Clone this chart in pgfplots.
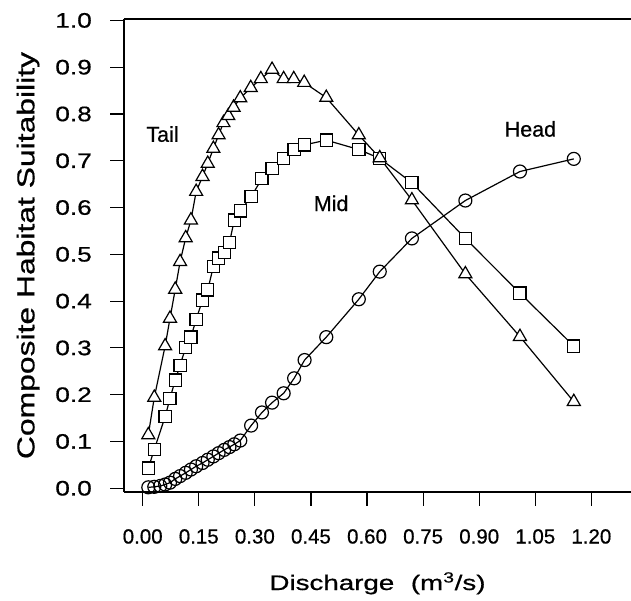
\documentclass[border=0pt]{standalone}
\usepackage{fontspec}
\setmainfont[FakeBold=0.6]{Liberation Sans}
\usepackage{graphicx}
\usepackage{pgfplots}
\pgfplotsset{compat=1.18}
\begin{document}
\begin{tikzpicture}
\useasboundingbox (0,0) rectangle (631bp,601bp);
\begin{axis}[
  at={(124bp,109bp)}, anchor=south west,
  scale only axis, width=507bp, height=473bp,
  xmin=-0.05, xmax=1.306, ymin=-0.008, ymax=1.003,
  axis x line*=box, axis y line*=left,
  xtick pos=bottom, ytick pos=left,
  axis line style={line width=1.5bp, -},
  tick style={line width=1.2bp, black},
  tick align=outside, major tick length=14bp,
  xtick={0,0.15,...,1.21}, ytick={0,0.1,...,1.01},
  /pgf/number format/assume math mode=true,
  xticklabel={\pgfmathprintnumber[fixed,fixed zerofill,precision=2]{\tick}},
  yticklabel={\scalebox{1.25}[1]{\pgfmathprintnumber[fixed,fixed zerofill,precision=1]{\tick}}},
  xticklabel style={font=\fontsize{20.5bp}{24bp}\selectfont, anchor=north, inner sep=0pt, yshift=-23bp},
  yticklabel style={font=\fontsize{21bp}{24bp}\selectfont, anchor=east, inner sep=0pt, xshift=-18bp},
  xlabel={\scalebox{1.32}[1]{Discharge\hspace{0.6em}(m\textsuperscript{3}/s)}},
  ylabel={\scalebox{1.3}[1]{Composite Habitat Suitability}},
  xlabel style={font=\fontsize{21bp}{24bp}\selectfont, at={(axis description cs:0.5,0)}, anchor=base, yshift=-98bp},
  ylabel style={font=\fontsize{24.5bp}{28bp}\selectfont, at={(axis description cs:-0.1893,0.5)}, anchor=center},
  every axis plot/.append style={black, line width=1.2bp, mark options={fill=white, solid, line width=1.2bp}},
  clip=false,
]
% Head
\addplot[mark=o, mark size=6.5bp, mark options={fill=white}] coordinates {
(0.015,0.002)(0.031,0.003)(0.047,0.005)(0.060,0.008)(0.073,0.012)(0.087,0.020)(0.100,0.026)(0.115,0.033)(0.129,0.040)(0.143,0.047)(0.160,0.054)(0.174,0.061)(0.189,0.068)(0.203,0.075)(0.218,0.082)(0.232,0.088)(0.245,0.094)(0.261,0.102)(0.290,0.134)(0.319,0.162)(0.346,0.183)(0.377,0.203)(0.405,0.235)(0.433,0.274)(0.491,0.323)(0.578,0.404)(0.634,0.463)(0.720,0.534)(0.863,0.615)(1.009,0.677)(1.153,0.704)
};
% Mid
\addplot[mark=square*, mark size=6.1bp] coordinates {
(0.015,0.043)(0.031,0.083)(0.060,0.153)(0.073,0.192)(0.087,0.231)(0.100,0.263)(0.115,0.301)(0.129,0.323)(0.143,0.361)(0.160,0.402)(0.174,0.424)(0.189,0.474)(0.203,0.492)(0.218,0.504)(0.232,0.525)(0.245,0.573)(0.261,0.593)(0.290,0.623)(0.319,0.662)(0.346,0.684)(0.377,0.705)(0.405,0.724)(0.433,0.734)(0.491,0.744)(0.578,0.724)(0.634,0.705)(0.720,0.653)(0.863,0.534)(1.009,0.417)(1.153,0.304)
};
% Tail
\addplot[mark=triangle*, mark size=7.5bp] coordinates {
(0.015,0.114)(0.031,0.194)(0.060,0.304)(0.073,0.363)(0.087,0.425)(0.100,0.484)(0.115,0.535)(0.129,0.573)(0.143,0.634)(0.160,0.666)(0.174,0.694)(0.189,0.726)(0.203,0.755)(0.216,0.781)(0.229,0.796)(0.243,0.814)(0.261,0.834)(0.289,0.856)(0.316,0.875)(0.346,0.895)(0.377,0.875)(0.404,0.875)(0.432,0.867)(0.491,0.835)(0.578,0.755)(0.634,0.706)(0.720,0.616)(0.863,0.458)(1.009,0.324)(1.153,0.185)
};
\node[font=\fontsize{21.5bp}{24bp}\selectfont] at (axis cs:0.053,0.757) {Tail};
\node[font=\fontsize{21.5bp}{24bp}\selectfont] at (axis cs:0.504,0.609) {Mid};
\node[font=\fontsize{21.5bp}{24bp}\selectfont] at (axis cs:1.037,0.768) {Head};
\end{axis}
\end{tikzpicture}
\end{document}
